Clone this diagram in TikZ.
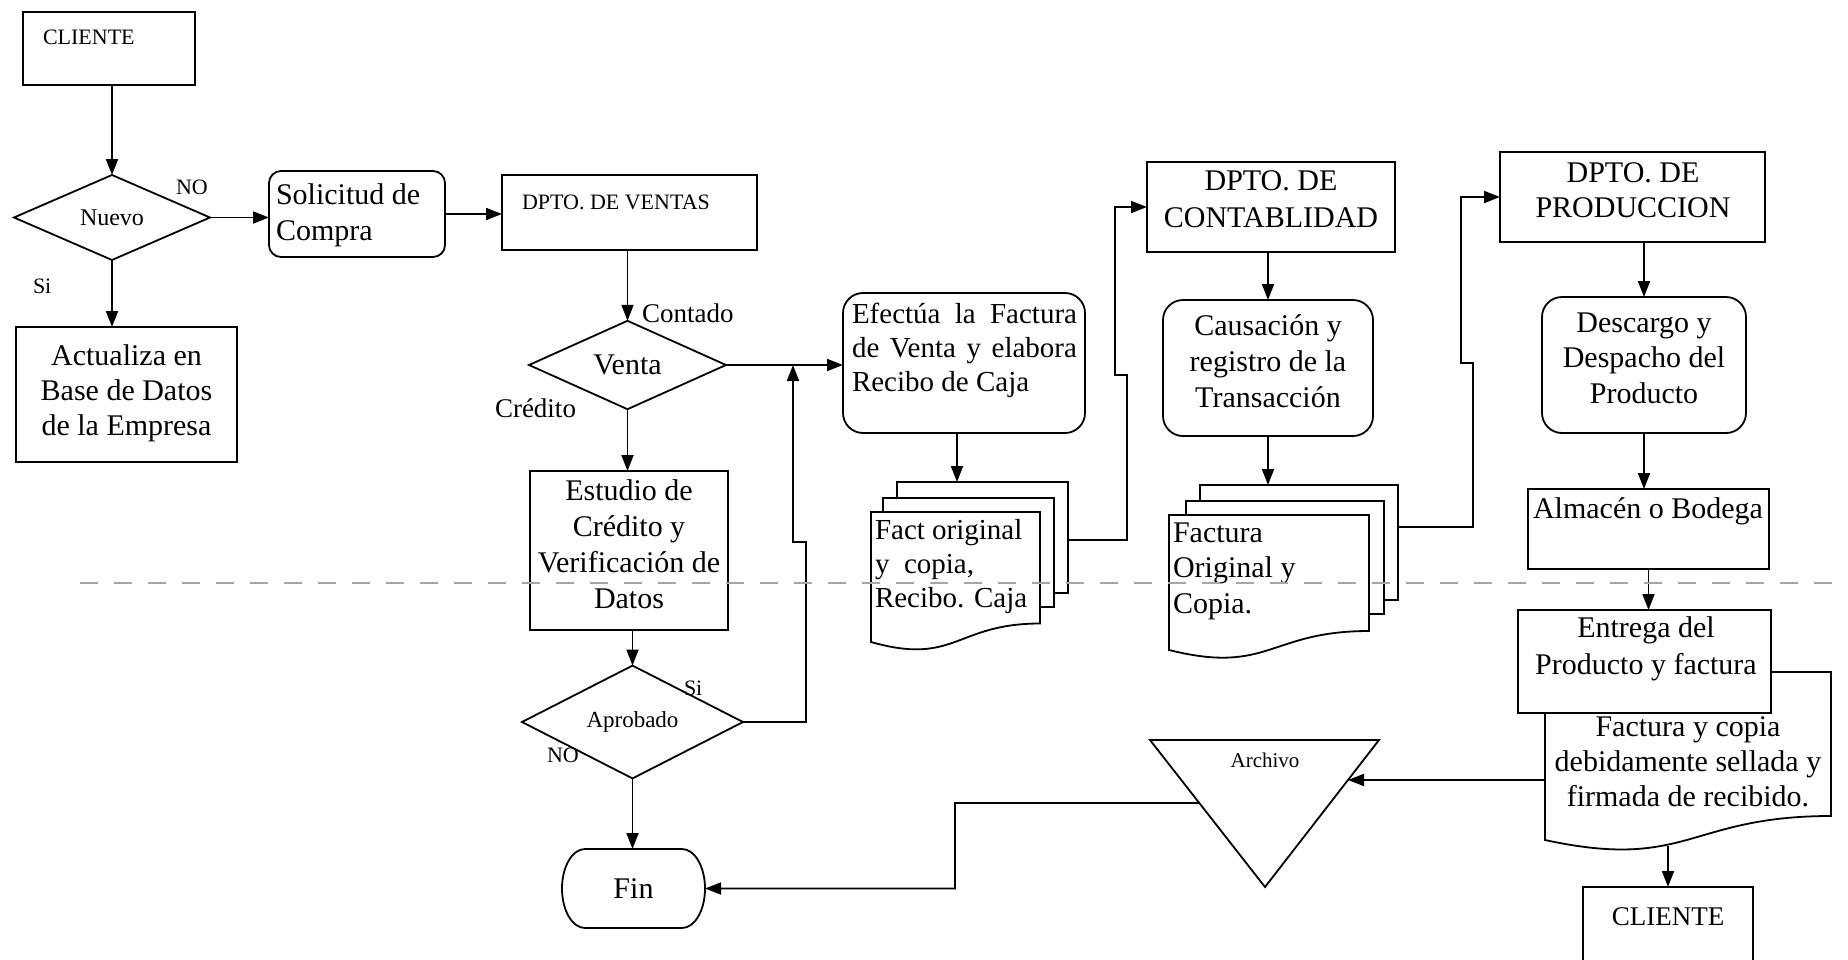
\documentclass[tikz,border=0pt]{standalone}
\usepackage{fontspec}
\setmainfont{Liberation Serif}
\usetikzlibrary{arrows.meta,shapes.geometric,calc}
\begin{document}
\begin{tikzpicture}[x=1pt,y=-1pt,
  ln/.style={line width=1.8pt},
  box/.style={draw, line width=1.8pt, fill=white, inner sep=0pt, outer sep=0pt},
  rbox/.style={box, rounded corners=20pt},
  dia/.style={draw, line width=1.8pt, fill=white, diamond, inner sep=0pt, outer sep=0pt},
  ghost/.style={inner sep=0pt, outer sep=0pt},
  txt/.style={inner sep=0pt, outer sep=0pt},
  arr/.style={line width=1.8pt, -{Triangle[length=16pt,width=12pt]}},
  big/.style={font=\fontsize{30}{36}\selectfont},
  med/.style={font=\fontsize{27}{32}\selectfont},
  small/.style={font=\fontsize{22}{26}\selectfont}
]
\fill[white] (0,0) rectangle (1848,959);
\useasboundingbox (0,0) rectangle (1848,959);

% ---------- left column ----------
\node[box, minimum width=172pt, minimum height=73pt] (cliente1) at (109,48.5) {};
\node[txt, small, anchor=base west] (tcliente1) at (43,44) {CLIENTE};
\node[dia, minimum width=196pt, minimum height=85pt, font=\fontsize{24}{28}\selectfont] (nuevo) at (112,217.5) {Nuevo};
\node[txt, small, anchor=base west] (tno1) at (176,194) {NO};
\node[txt, small, anchor=base west] (tsi1) at (33,293) {Si};
\node[box, rounded corners=12pt, minimum width=176pt, minimum height=86pt] (solicitud) at (357,214) {};
\node[txt, big, align=left, anchor=base west] (tsolicitud) at (276,240) {Solicitud de\\Compra};
\node[box, minimum width=221pt, minimum height=135pt] (actualiza) at (126.5,394.5) {};
\node[txt, font=\fontsize{30}{35}\selectfont, align=center, anchor=base] (tactualiza) at (126.5,435) {Actualiza en\\Base de Datos\\de la Empresa};

% ---------- ventas ----------
\node[box, minimum width=255pt, minimum height=75pt] (ventas) at (629.5,212.5) {};
\node[txt, small, anchor=base west] (tventas) at (522,209) {DPTO. DE VENTAS};
\node[dia, minimum width=197pt, minimum height=84pt, big] (venta) at (627.5,365) {Venta};
\node[txt, med, anchor=base west] (tcontado) at (642,322) {Contado};
\node[txt, med, anchor=base west] (tcredito) at (495,417) {Crédito};
\node[box, minimum width=198pt, minimum height=159pt] (estudio) at (629,550.5) {};
\node[txt, font=\fontsize{30}{36}\selectfont, align=center, anchor=base] (testudio) at (629,608) {Estudio de\\Crédito y\\Verificación de\\Datos};
\node[dia, minimum width=221pt, minimum height=62pt, font=\fontsize{23}{27}\selectfont] (aprobado) at (632.5,722) {Aprobado};
\node[txt, small, anchor=base west] (tsi2) at (684,695) {Si};
\node[txt, small, anchor=base west] (tno2) at (547,762) {NO};
\filldraw[ln, fill=white] (585,849) -- (682,849) .. controls (694.7,849) and (705,866.7) .. (705,888.5) .. controls (705,910.3) and (694.7,928) .. (682,928) -- (585,928) .. controls (572.3,928) and (562,910.3) .. (562,888.5) .. controls (562,866.7) and (572.3,849) .. (585,849) -- cycle;
\node[ghost, minimum width=143pt, minimum height=79pt, big] (fin) at (633.5,888.5) {Fin};

% ---------- factura ----------
\node[rbox, minimum width=242pt, minimum height=140pt] (efectua) at (964,363) {};
\node[txt, font=\fontsize{29}{34}\selectfont, align=left, anchor=base west] (tefectua) at (852,391) {\makebox[225pt][s]{Efectúa la Factura}\\\makebox[225pt][s]{de Venta y elabora}\\Recibo de Caja};
\filldraw[ln, fill=white] (897,482) rectangle (1068,593);
\filldraw[ln, fill=white] (883,498) rectangle (1054,607);
\filldraw[ln, fill=white] (871,512) -- (1040,512) -- (1040,623.5) .. controls (955.5,623.5) and (955.5,666) .. (871,642) -- cycle;
\node[ghost, minimum width=197pt, minimum height=160pt] (fact) at (969.5,562) {};
\node[txt, font=\fontsize{29}{34}\selectfont, align=left, anchor=base west] (tfact) at (875,607) {Fact original\\y\ \ copia,\\Recibo. Caja};

% ---------- contabilidad ----------
\node[box, minimum width=248pt, minimum height=90pt] (contab) at (1271,207) {};
\node[txt, font=\fontsize{30}{37}\selectfont, align=center, anchor=base] (tcontab) at (1271,227) {DPTO. DE\\CONTABLIDAD};
\node[rbox, minimum width=210pt, minimum height=136pt] (causacion) at (1268,368) {};
\node[txt, font=\fontsize{30}{36}\selectfont, align=center, anchor=base] (tcausacion) at (1268,407) {Causación y\\registro de la\\Transacción};
\filldraw[ln, fill=white] (1200,485) rectangle (1398,600);
\filldraw[ln, fill=white] (1186,501) rectangle (1384,614);
\filldraw[ln, fill=white] (1169,515) -- (1369,515) -- (1369,631) .. controls (1269,631) and (1269,675) .. (1169,650) -- cycle;
\node[ghost, minimum width=229pt, minimum height=165pt] (fact2) at (1283.5,567.5) {};
\node[txt, font=\fontsize{30}{35.5}\selectfont, align=left, anchor=base west] (tfact2) at (1173,613) {Factura\\Original y\\Copia.};

% ---------- produccion ----------
\node[box, minimum width=265pt, minimum height=90pt] (produccion) at (1632.5,197) {};
\node[txt, font=\fontsize{30}{35}\selectfont, align=center, anchor=base] (tproduccion) at (1633,217) {DPTO. DE\\PRODUCCION};
\node[rbox, minimum width=204pt, minimum height=136pt] (descargo) at (1644,365) {};
\node[txt, font=\fontsize{30}{35.5}\selectfont, align=center, anchor=base] (tdescargo) at (1644,403) {Descargo y\\Despacho del\\Producto};
\node[box, minimum width=241pt, minimum height=80pt] (almacen) at (1648.5,529) {};
\node[txt, big, anchor=base] (talmacen) at (1648,518) {Almacén o Bodega};
\filldraw[ln, fill=white] (1545,672) -- (1831,672) -- (1831,816) .. controls (1688,816) and (1688,871) .. (1545,840) -- cycle;
\node[ghost, minimum width=286pt, minimum height=178pt] (doc) at (1688,761) {};
\node[txt, font=\fontsize{30}{35}\selectfont, align=center, anchor=base] (tdoc) at (1688,806) {Factura y copia\\debidamente sellada y\\firmada de recibido.};
\node[box, minimum width=253pt, minimum height=103pt] (entrega) at (1644.5,661.5) {};
\node[txt, font=\fontsize{30}{37}\selectfont, align=center, anchor=base] (tentrega) at (1646,674) {Entrega del\\Producto y factura};
\node[box, minimum width=170pt, minimum height=100pt] (cliente2) at (1668,937) {};
\node[txt, font=\fontsize{27}{32}\selectfont, anchor=base] (tcliente2) at (1668,925) {CLIENTE};

% ---------- archivo ----------
\coordinate (atl) at (1150,740);
\coordinate (atr) at (1379,740);
\coordinate (abt) at (1265,887);
\filldraw[ln, fill=white] (atl) -- (atr) -- (abt) -- cycle;
\node[txt, font=\fontsize{21}{25}\selectfont, anchor=base] (archivo) at (1265,767) {Archivo};
\coordinate (arcR) at ($(atr)!0.272!(abt)$);
\coordinate (arcL) at ($(atl)!0.4286!(abt)$);

% ---------- connectors ----------
\coordinate (j1) at (806,542);
\coordinate (j2) at (793,542);
\coordinate (k1) at (1127,375);
\coordinate (k2) at (1115,375);
\coordinate (m1) at (1473,363);
\coordinate (m2) at (1461,363);
\coordinate (n1) at (955,803);
\coordinate (docb) at (1668,846);

\draw[arr] (nuevo.north |- cliente1.south) -- (nuevo.north);
\draw[arr] (nuevo.east) -- (solicitud.west |- nuevo.east);
\draw[arr] (nuevo.south) -- (nuevo.south |- actualiza.north);
\draw[arr] (solicitud.east) -- (solicitud.east -| ventas.west);
\draw[arr] (venta.north |- ventas.south) -- (venta.north);
\draw[arr] (venta.east) -- (venta.east -| efectua.west);
\draw[arr] (venta.south) -- (venta.south |- estudio.north);
\draw[arr] (aprobado.north |- estudio.south) -- (aprobado.north);
\draw[arr] (aprobado.east) -| (j1) -- (j2) -- (j2 |- venta.east);
\draw[arr] (aprobado.south) -- (aprobado.south |- fin.north);
\draw[arr] ([xshift=-7pt]efectua.south) -- ([xshift=-7pt]efectua.south |- fact.north);
\draw[arr] ([yshift=-58pt]fact.north east) -| (k1) -- (k2) |- (contab.west);
\draw[arr] (causacion.north |- contab.south) -- (causacion.north);
\draw[arr] (causacion.south) -- (causacion.south |- fact2.north);
\draw[arr] ([yshift=-42pt]fact2.north east) -| (m1) -- (m2) |- (produccion.west);
\draw[arr] (descargo.north |- produccion.south) -- (descargo.north);
\draw[arr] (descargo.south) -- (descargo.south |- almacen.north);
\draw[arr] (almacen.south) -- (almacen.south |- entrega.north);
\draw[arr] (doc.west |- arcR) -- (arcR);
\draw[arr] (arcL) -- (n1) |- (fin.east);
\draw[arr] (docb) -- (docb |- cliente2.north);

% ---------- dashed separator ----------
\draw[gray!70, line width=1.5pt, dash pattern=on 18pt off 16pt] (80,583) -- (1848,583);
\end{tikzpicture}
\end{document}
